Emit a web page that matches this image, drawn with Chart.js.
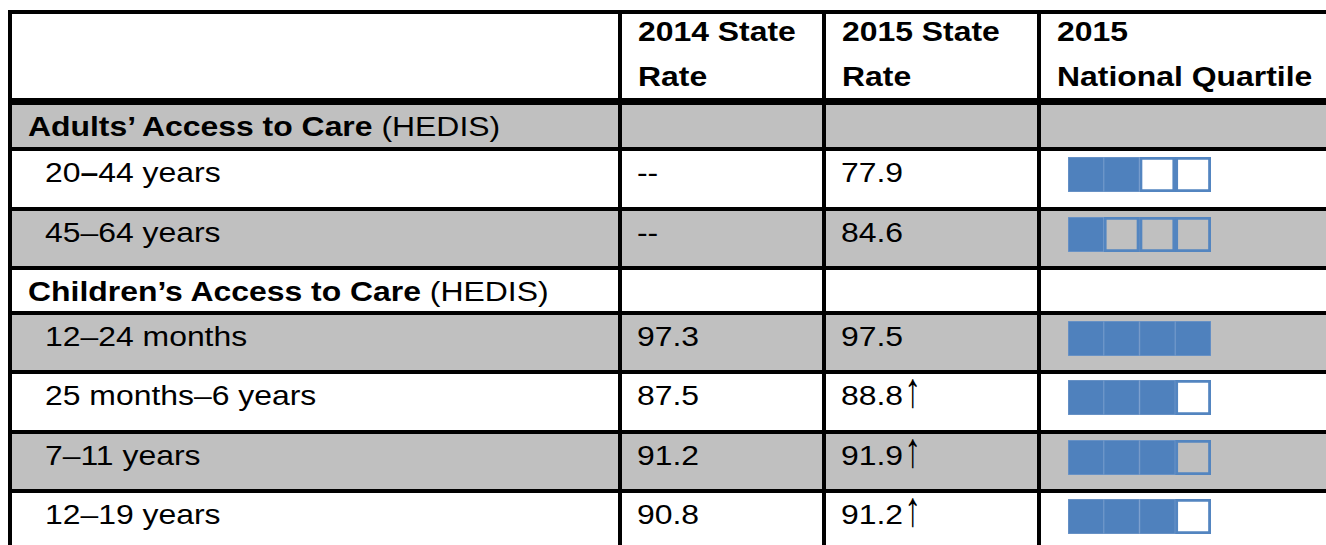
<!DOCTYPE html>
<html>
<head>
<meta charset="utf-8">
<script src="https://cdn.jsdelivr.net/npm/chart.js"></script>
<style>
body { margin:0; width:1326px; height:545px; overflow:hidden; background:#fff;
       font-family:"Liberation Sans", Arial, sans-serif; color:#000; position:relative; }
.txt { position:absolute; font-size:27.5px; line-height:31px; white-space:nowrap;
       transform:scaleX(1.16); transform-origin:0 0; }
.arrow { display:inline-block; transform:scale(1.05, 1.8); transform-origin:50% 72%; margin-left:1px; }
.line { position:absolute; background:#000; }
.grey { position:absolute; background:#c0c0c0; }
canvas { position:absolute; }
</style>
</head>
<body>
<script>
// table data
const headLine1 = ['2014 State', '2015 State', '2015'];
const headLine2 = ['Rate', 'Rate', 'National Quartile'];
const rowLabels = ['Adults’ Access to Care', '20–44 years', '45–64 years', 'Children’s Access to Care',
                   '12–24 months', '25 months–6 years', '7–11 years', '12–19 years'];
const isSection = [true, false, false, true, false, false, false, false];
const rate2014 = [null, null, null, null, 97.3, 87.5, 91.2, 90.8];
const rate2015 = [null, 77.9, 84.6, null, 97.5, 88.8, 91.9, 91.2];
const sigUp    = [false, false, false, false, false, true, true, true];
const quartile = [null, 2, 1, null, 4, 3, 3, 3];

// layout
const colLeft = [12, 622, 826, 1041];
const dividers = [8, 618, 822, 1037];
const rowHeights = [42, 56, 55, 41, 55, 56, 55, 60];
const firstRowTop = 105;

function el(cls, x, y, w, h, html) {
    let d = document.createElement('div');
    d.className = cls;
    d.style.left = x + 'px';
    d.style.top = y + 'px';
    if (w != null) d.style.width = w + 'px';
    if (h != null) d.style.height = h + 'px';
    if (html != null) d.innerHTML = html;
    document.body.appendChild(d);
    return d;
}

function text(x, baseline, html) {
    return el('txt', x, baseline - 25, null, null, html);
}

function quartileChart(x, y, q) {
    let c = document.createElement('canvas');
    c.width = 143;
    c.height = 35;
    c.style.left = x + 'px';
    c.style.top = y + 'px';
    document.body.appendChild(c);
    let datasets = [];
    for (let s = 1; s <= 4; s++) {
        datasets.push({
            data: [1],
            backgroundColor: s <= q ? '#4f81bd' : 'rgba(0,0,0,0)',
            borderColor: s <= q ? '#6f97c9' : '#5385c0',
            borderWidth: s <= q ? 1 : 2.5,
            borderSkipped: false,
            barPercentage: 1,
            categoryPercentage: 1
        });
    }
    new Chart(c.getContext('2d'), {
        type: 'bar',
        data: { labels: [''], datasets: datasets },
        options: {
            indexAxis: 'y',
            responsive: false,
            animation: false,
            devicePixelRatio: 1,
            events: [],
            layout: { padding: 0 },
            plugins: { legend: { display: false }, tooltip: { enabled: false } },
            scales: {
                x: { stacked: true, min: 0, max: 4, display: false },
                y: { stacked: true, display: false }
            }
        }
    });
}

// header text
for (let i = 0; i < 3; i++) {
    text(colLeft[i + 1] + 16, 41, '<b>' + headLine1[i] + '</b>');
    text(colLeft[i + 1] + 16, 86, '<b>' + headLine2[i] + '</b>');
}

// rows
let rowY = firstRowTop;
let tops = [];
for (let i = 0; i < rowLabels.length; i++) {
    tops.push(rowY);
    if (i % 2 == 0) el('grey', 12, rowY, 1326 - 12, rowHeights[i]);
    rowY += rowHeights[i] + 4;
}

// grid lines
el('line', 8, 10, 1326 - 8, 4);
el('line', 8, 98, 1326 - 8, 7);
for (let i = 1; i < tops.length; i++) el('line', 8, tops[i] - 4, 1326 - 8, 4);
for (let x of dividers) el('line', x, 10, 4, 545 - 10);

for (let i = 0; i < rowLabels.length; i++) {
    let base = tops[i] + 31;
    if (isSection[i]) {
        text(28, base, '<b>' + rowLabels[i] + '</b> (HEDIS)');
        continue;
    }
    let label = i == 1 ? rowLabels[i].replace('–', '<b>–</b>') : rowLabels[i];
    text(45, base, label);
    text(637, base, rate2014[i] == null ? '--' : rate2014[i].toFixed(1));
    text(841, base, (rate2015[i] == null ? '--' : rate2015[i].toFixed(1)) +
         (sigUp[i] ? '<span class="arrow">↑</span>' : ''));
    quartileChart(1068, tops[i] + 6, quartile[i]);
}
</script>
</body>
</html>
